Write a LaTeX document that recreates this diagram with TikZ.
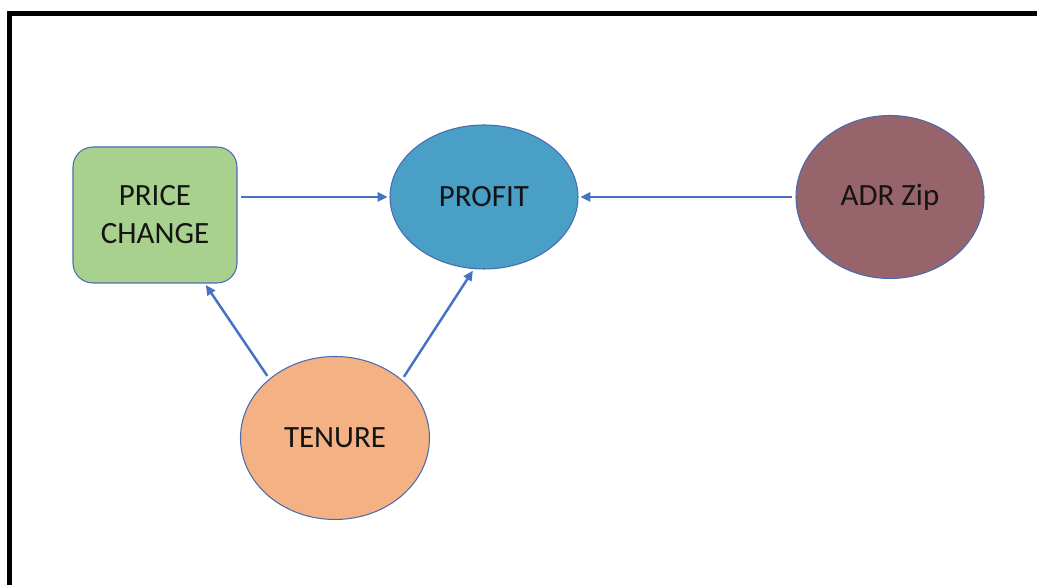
\documentclass[tikz,border=0pt]{standalone}
\usepackage{fontspec}
\setmainfont{Carlito}
\usetikzlibrary{arrows.meta, shapes, positioning}
\definecolor{pricegreen}{HTML}{A9D18E}
\definecolor{profitblue}{HTML}{4A9FC7}
\definecolor{adrmauve}{HTML}{96646A}
\definecolor{tenurepeach}{HTML}{F4B183}
\definecolor{linkblue}{HTML}{4472C4}
\definecolor{edgeblue}{HTML}{4A6BB0}
\definecolor{textdark}{HTML}{141414}

\begin{document}
\begin{tikzpicture}[
    factor/.style={draw=edgeblue, line width=0.6pt, inner sep=0pt, align=center,
      text=textdark, font=\fontsize{17.6}{21.6}\selectfont},
    link/.style={draw=linkblue, line width=1.4pt, shorten <=2pt, shorten >=1pt,
      -{Triangle[length=0.2cm, width=0.18cm]}}
  ]
  \useasboundingbox (0,0) rectangle (20.74,11.7);

  % Marco exterior
  \draw[line width=0.1cm, black] (0.19,0) -- (0.19,11.42) -- (20.74,11.42);

  % Nodos
  \node[factor, rectangle, rounded corners=0.4cm, fill=pricegreen, minimum width=3.28cm, minimum height=2.72cm] (price) at (3.10,7.40) {PRICE\\CHANGE};
  \node[factor, ellipse, fill=profitblue, minimum width=3.76cm, minimum height=2.88cm] (profit) at (9.68,7.76) {PROFIT};
  \node[factor, ellipse, fill=adrmauve, minimum width=3.76cm, minimum height=3.26cm] (adr) at (17.80,7.76) {ADR Zip};
  \node[factor, ellipse, fill=tenurepeach, minimum width=3.78cm, minimum height=3.26cm] (tenure) at (6.70,2.94) {TENURE};

  % Flechas
  \draw[link] (price.east |- profit.west) -- (profit.west);
  \draw[link] (adr.west) -- (profit.east);
  \draw[link] (tenure.138) -- (price.-54);
  \draw[link] (tenure.41) -- (profit.-98);
\end{tikzpicture}
\end{document}
